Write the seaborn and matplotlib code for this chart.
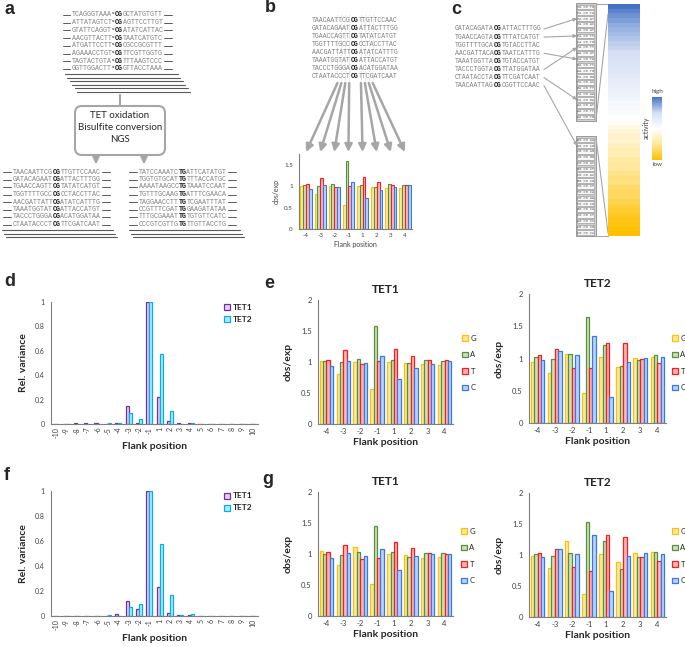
import numpy as np
import pandas as pd
import matplotlib
matplotlib.use('Agg')
import matplotlib.pyplot as plt
import seaborn as sns
from matplotlib.patches import Patch, Rectangle, FancyBboxPatch
from matplotlib.colors import LinearSegmentedColormap, Normalize
from matplotlib.cm import ScalarMappable
from matplotlib.ticker import FuncFormatter, FixedLocator

# ---- data ----
flank_pos = ['-4', '-3', '-2', '-1', '1', '2', '3', '4']
bases = ['G', 'A', 'T', 'C']
# rows: G, A, T, C
e_tet1 = [[1.01, 0.81, 1.00, 0.56, 1.00, 0.99, 0.96, 0.95],
          [1.02, 1.00, 1.05, 1.58, 1.03, 0.99, 1.04, 1.02],
          [1.04, 1.19, 0.97, 1.01, 1.21, 1.09, 1.03, 1.03],
          [0.93, 1.02, 0.99, 1.10, 0.73, 0.91, 0.97, 1.02]]
e_tet2 = [[0.95, 0.78, 1.07, 0.47, 1.03, 0.87, 1.01, 1.03],
          [1.02, 1.00, 1.07, 1.64, 1.21, 0.88, 0.98, 1.05],
          [1.06, 1.14, 0.85, 0.86, 1.24, 1.24, 0.99, 0.93],
          [0.97, 1.11, 1.05, 1.35, 0.41, 0.95, 1.01, 1.02]]
g_tet1 = [[1.05, 0.82, 1.12, 0.52, 1.00, 0.98, 0.94, 0.95],
          [1.00, 0.98, 1.03, 1.45, 1.03, 0.95, 1.02, 1.01],
          [1.03, 1.14, 0.92, 0.94, 1.20, 1.09, 1.01, 1.00],
          [0.93, 1.01, 0.97, 1.08, 0.75, 0.97, 1.00, 1.00]]
g_tet2 = [[0.99, 0.79, 1.22, 0.37, 1.02, 0.88, 1.04, 1.05],
          [1.01, 0.98, 1.03, 1.53, 1.22, 0.78, 0.96, 1.05],
          [1.03, 1.09, 0.81, 0.75, 1.33, 1.29, 0.97, 0.91],
          [0.97, 1.09, 1.02, 1.33, 0.42, 0.99, 1.04, 1.01]]

var_pos = ['-10', '-9', '-8', '-7', '-6', '-5', '-4', '-3', '-2', '-1',
           '1', '2', '3', '4', '5', '6', '7', '8', '9', '10']
enzymes = ['TET1', 'TET2']
d_tet1 = [0, 0, 0.005, 0.008, 0.005, 0.004, 0.012, 0.148, 0.01, 1.0,
          0.22, 0.027, 0.008, 0.008, 0.002, 0.002, 0.002, 0, 0, 0]
d_tet2 = [0, 0, 0.002, 0, 0.002, 0.008, 0.008, 0.093, 0.044, 1.0,
          0.575, 0.11, 0.002, 0.008, 0.002, 0.002, 0, 0, 0, 0]
f_tet1 = [0, 0, 0, 0, 0, 0, 0.016, 0.123, 0.053, 1.0,
          0.235, 0.027, 0.008, 0.008, 0, 0, 0, 0, 0, 0]
f_tet2 = [0, 0, 0, 0, 0, 0.005, 0, 0.075, 0.10, 1.0,
          0.58, 0.17, 0.005, 0.015, 0, 0, 0, 0, 0, 0]

activity = [1.00, 0.92, 0.85, 0.80, 0.74, 0.70, 0.66, 0.62, 0.58, 0.55,
            0.50, 0.47, 0.44, 0.40, 0.37, 0.35, 0.30, 0.28, 0.24, 0.20,
            0.17, 0.13, 0.10, 0.06, 0.02, -0.05, -0.12, -0.20, -0.26, -0.24,
            -0.32, -0.38, -0.36, -0.44, -0.50, -0.48, -0.55, -0.60, -0.58, -0.65,
            -0.70, -0.68, -0.75, -0.80, -0.84, -0.88, -0.92, -0.95, -0.98, -1.00]

seq_a_top = ['TCAGGGTAAACGGCTATGTGTT', 'ATTATAGTCTCGAGTTCCTTGT', 'GTATTCAGGTCGATATCATTAC',
             'AACGTTACTTCGTAATCATGTC', 'ATGATTCCTTCGCGCCGCGTTT', 'AGAAACCTGTCGTTCGTTGGTG',
             'TAGTACTGTACGTTTAAGTCCC', 'GGTTGGACTTCGGTTACCTAAA']
seq_a_left = ['TAACAATTCGCGTTGTTCCAAC', 'GATACAGAATCGATTACTTTGG', 'TGAACCAGTTCGTATATCATGT',
              'TGGTTTTGCCCGCCTACCTTAC', 'AACGATTATTCGATATCATTTG', 'TAAATGGTATCGATTACCATGT',
              'TACCCTGGGACGACATGGATAA', 'CTAATACCCTCGTTCGATCAAT']
seq_a_right = ['TATCCAAATCTGATTCATATGT', 'TGGTGTGCATTGTTTACCATGC', 'AAAATAAGCCTGTAAATCCAAT',
               'TGTTTGCAAGTGATTTCGAACA', 'TAGGAACCTTTGTCGAATTTAT', 'CCGTTTCGATTGGAAGATATAA',
               'TTTGCGAAATTGTGTGTTCATC', 'CCCGTCGTTGTGTTGTTACCTG']
seq_c = ['GATACAGATACGATTACTTTGG', 'TGAACCAGTACGTTTATCATGT', 'TGGTTTTGCACGTGTACCTTAC',
         'AACGATTACACGTAATCATTTG', 'TAAATGGTTACGTGTACCATGT', 'TACCCTGGTACGTTATGGATAA',
         'CTAATACCTACGTTCGATCAAT', 'TAACAATTAGCGCGGTTCCAAC']
box_top = ['TACGTG', 'TACGTA', 'TACGAT', 'TACGAC', 'TACGAT', 'TACGTT', 'CACGTG', 'TACGTT',
           'AACGAT', 'CACGTA', 'GACGTT', 'AACGTG', 'TACGGG', 'TACGAC', 'GACGTT', 'TACGAA',
           'TACGGA', 'AACGAT', 'AACGTT', 'AACGTG']
box_bottom = ['GGCGAA', 'AGCGCG', 'CGCGAG', 'CGCGGG', 'CGCGAC', 'GGCGCT', 'CGCGAC', 'GGCGCG',
              'TGCGCT', 'TGCGCA', 'CGCGAA', 'TGCGCG', 'GGCGCA', 'CGCGCT', 'AGCGCC', 'CGCGCG',
              'CGCGCA']

base_fill = ['#FFE8A3', '#CBE0BC', '#FFB8B8', '#BCD3F7']
base_edge = ['#FFC000', '#5B8E3A', '#FF1A1A', '#3478EE']
enz_fill = ['#E2D2EE', '#B5E8FB']
enz_edge = ['#7030A0', '#00B0F0']

# ---- layout helpers (pixel boxes) ----
W, H = 685, 647
axis_col = '#7F7F7F'
txt_col = '#404040'
seq_col = '#808080'
arrow_col = '#A6A6A6'


def px(l, t, r, b):
    return [l / W, 1 - b / H, (r - l) / W, (b - t) / H]


def long_table(pos, levels, values):
    rows = []
    for lev, vals in zip(levels, values):
        for p, v in zip(pos, vals):
            rows.append((p, lev, v))
    return pd.DataFrame(rows, columns=['pos', 'grp', 'val'])


def bars(ax, pos, levels, values, fills, edges, width, lw, fs):
    df = long_table(pos, levels, values)
    sns.barplot(data=df, x='pos', y='val', hue='grp', order=pos, hue_order=levels,
                palette=dict(zip(levels, fills)), width=width, errorbar=None,
                saturation=1, legend=False, ax=ax)
    for cont, ec in zip(ax.containers, edges):
        for b in cont:
            b.set_edgecolor(ec)
            b.set_linewidth(lw)
    sns.despine(ax=ax)
    for s in ['left', 'bottom']:
        ax.spines[s].set_color(axis_col)
        ax.spines[s].set_linewidth(0.8)
    n = len(pos)
    ax.set_xlim(-0.5, n - 0.5)
    ax.xaxis.set_minor_locator(FixedLocator(np.arange(n + 1) - 0.5))
    ax.tick_params(axis='x', which='major', length=0, labelsize=fs, labelcolor=txt_col, pad=3)
    ax.tick_params(axis='x', which='minor', length=2.5, color=axis_col, width=0.8)
    ax.tick_params(axis='y', length=2.5, color=axis_col, width=0.8, labelsize=fs,
                   labelcolor=txt_col, pad=2)
    ax.yaxis.set_major_formatter(FuncFormatter(lambda v, p: f'{v:g}'))
    ax.set_xlabel('')
    ax.set_ylabel('')
    ax.set_facecolor('none')


def legend(ax, labels, fills, edges, x, y, fs, spacing, bold=False):
    handles = [Patch(facecolor=f, edgecolor=e, linewidth=0.9) for f, e in zip(fills, edges)]
    ax.legend(handles, labels, loc='center left', bbox_to_anchor=(x / W, 1 - y / H),
              bbox_transform=fig.transFigure, frameon=False, borderaxespad=0, borderpad=0,
              handlelength=0.75, handleheight=0.75, handletextpad=0.35, labelspacing=spacing,
              prop={'size': fs, 'weight': 'bold' if bold else 'normal', 'family': 'Lato'})


def obs_panel(rect, values, title, leg_x, leg_y):
    ax = fig.add_axes(px(*rect))
    bars(ax, flank_pos, bases, values, base_fill, base_edge, 0.8, 0.9, 5.5)
    ax.set_ylim(0, 2)
    ax.set_yticks([0, 0.5, 1, 1.5, 2])
    ax.set_title(title, fontsize=8.5, fontweight='bold', pad=5)
    ax.set_ylabel('obs/exp', fontsize=7.5, fontweight='bold', labelpad=6)
    ax.set_xlabel('Flank position', fontsize=7.5, fontweight='bold', labelpad=2)
    legend(ax, bases, base_fill, base_edge, leg_x, leg_y, 5.5, 1.25)
    return ax


def var_panel(rect, v1, v2, leg_y):
    ax = fig.add_axes(px(*rect))
    bars(ax, var_pos, enzymes, [v1, v2], enz_fill, enz_edge, 0.6, 0.9, 5)
    ax.set_ylim(0, 1)
    ax.set_yticks([0, 0.2, 0.4, 0.6, 0.8, 1])
    ax.tick_params(axis='x', which='major', labelrotation=90, labelsize=5, pad=2)
    ax.set_ylabel('Rel. variance', fontsize=7.5, fontweight='bold', labelpad=5)
    ax.set_xlabel('Flank position', fontsize=7.5, fontweight='bold', labelpad=3)
    legend(ax, enzymes, enz_fill, enz_edge, 224, leg_y, 6, 0.6, bold=True)
    return ax


def seq_block(ov, seqs, x0, y0, dy, fs, dash=0, mark=False):
    cw = fs / 72 * 100 * 0.6
    shift = 0.7 * cw if mark else 0
    end = x0 + 22 * cw + shift
    for i, s in enumerate(seqs):
        y = y0 + i * dy
        kw = dict(fontsize=fs, family='Liberation Mono', va='center', ha='left')
        ov.text(x0, y, s[:10], color=seq_col, **kw)
        if mark:
            ov.text(x0 + 10 * cw - 0.5, y - 1.6, 'm', color='#404040',
                    fontsize=fs * 0.6, family='Liberation Mono', va='center', ha='left')
        ov.text(x0 + 10 * cw + shift, y, s[10:12], color='#1A1A1A', fontweight='bold', **kw)
        ov.text(x0 + 12 * cw + shift, y, s[12:], color=seq_col, **kw)
        if dash:
            ov.plot([x0 - dash, x0 - 1.5], [y, y], color='#595959', lw=0.7)
            ov.plot([end + 1.5, end + dash], [y, y], color='#595959', lw=0.7)
    return cw, end


sns.set_style('white')
plt.rcParams['font.family'] = ['Lato', 'DejaVu Sans']

fig = plt.figure(figsize=(W / 100, H / 100), dpi=100)
ov = fig.add_axes([0, 0, 1, 1])
ov.set_xlim(0, W)
ov.set_ylim(H, 0)
ov.axis('off')

# panel letters
for lab, (lx, ly) in zip('abcdefg', [(10, 10), (270, 8), (456, 10), (10, 282),
                                     (269, 283), (7, 476), (268, 479)]):
    ov.text(lx, ly, lab, fontsize=13, fontweight='bold', family='Liberation Sans',
            ha='center', va='center')

# ---- panel a ----
seq_block(ov, seq_a_top, 72, 15, 7.7, 4.8, dash=9, mark=True)
for i in range(6):
    ov.plot([65 + 2.5 * i, 178 + 2.5 * i], [74 + 3.6 * i] * 2, color='#595959', lw=0.8)
ov.plot([120, 120], [95, 106], color=arrow_col, lw=1.5)
ov.add_patch(FancyBboxPatch((75, 106), 90, 49, boxstyle='round,pad=0,rounding_size=7',
                            ec=arrow_col, fc='white', lw=1.5))
for yy, t in zip([116, 128, 140], ['TET oxidation', 'Bisulfite conversion', 'NGS']):
    ov.text(120, yy, t, fontsize=7, ha='center', va='center', color='#262626')
for xx in [96, 144]:
    ov.annotate('', xy=(xx, 167), xytext=(xx, 155),
                arrowprops=dict(arrowstyle='-|>', color=arrow_col, lw=1.5, mutation_scale=10))
seq_block(ov, seq_a_left, 13, 172, 7.5, 4.75, dash=10)
seq_block(ov, seq_a_right, 139, 172, 7.5, 4.75, dash=10)
for i in range(3):
    ov.plot([2 + 2 * i, 113 + 2 * i], [230 + 3.5 * i] * 2, color='#595959', lw=0.8)
    ov.plot([129 + 2 * i, 240 + 2 * i], [230 + 3.5 * i] * 2, color='#595959', lw=0.8)

# ---- panel b ----
bx0, by0 = 312, 21
cw_b = 4.7 / 72 * 100 * 0.6
flank_idx = [6, 7, 8, 9, 12, 13, 14, 15]
for ci in flank_idx:
    xc = bx0 + (ci + 0.5) * cw_b
    ov.plot([xc, xc], [15, 80], color='#BFBFBF', lw=0.5, ls=(0, (1, 1.5)))
seq_block(ov, seq_a_left, bx0, by0, 8, 4.7)
b_rect = (299, 154, 412, 229)
for k, ci in enumerate(flank_idx):
    xs = bx0 + (ci + 0.5) * cw_b
    xe = b_rect[0] + (k + 0.5) * (b_rect[2] - b_rect[0]) / 8
    ov.annotate('', xy=(xe, 152), xytext=(xs, 83),
                arrowprops=dict(arrowstyle='-|>', color=arrow_col, lw=1.8, mutation_scale=11,
                                shrinkA=0, shrinkB=0))
axb = fig.add_axes(px(*b_rect))
bars(axb, flank_pos, bases, e_tet1, base_fill, base_edge, 0.8, 0.8, 4.5)
axb.set_ylim(0, 1.75)
axb.set_yticks([0, 0.5, 1, 1.5])
axb.set_ylabel('obs/exp', fontsize=5, color=txt_col, labelpad=3)
axb.set_xlabel('Flank position', fontsize=5, color=txt_col, labelpad=2)

# ---- panel c ----
seq_block(ov, seq_c, 455, 29, 8.1, 4.7)
bh = 5.8
for blk, (y0, labels) in enumerate([(4, box_top), (137, box_bottom)]):
    ov.add_patch(Rectangle((576, y0 - 0.8), 20, len(labels) * bh + 1.6, fc='#D0D0D0',
                           ec='#8C8C8C', lw=0.6))
    for i, lab in enumerate(labels):
        ov.add_patch(Rectangle((577.5, y0 + i * bh + 0.6), 17, bh - 1.2, fc='#F7F7F7',
                               ec='#8C8C8C', lw=0.4))
        ov.text(586, y0 + (i + 0.5) * bh, lab[:2] + ' ' + lab[2:4] + ' ' + lab[4:],
                fontsize=2.6, family='Liberation Mono', ha='center', va='center', color='#595959')
links = [(0, 4, 2), (1, 4, 5), (3, 4, 9), (5, 4, 7), (6, 4, 16), (7, 137, 1)]
for row, y0, idx in links:
    ov.annotate('', xy=(577, y0 + (idx + 0.5) * bh), xytext=(544, 29 + row * 8.1),
                arrowprops=dict(arrowstyle='-|>', color=arrow_col, lw=0.8, mutation_scale=5,
                                shrinkA=0, shrinkB=0))
for (x1, y1), (x2, y2) in [((596, 4), (608, 4)), ((596, 120), (608, 14)),
                           ((596, 138), (608, 233)), ((596, 236), (608, 236))]:
    ov.plot([x1, x2], [y1, y2], color=arrow_col, lw=0.8)

act_cmap = LinearSegmentedColormap.from_list(
    'act', ['#FFC000', '#FFE79A', '#FFFFFF', '#D5E0F4', '#4472C4'])
axh = fig.add_axes(px(608, 4, 640, 236))
sns.heatmap(np.array(activity)[:, None], ax=axh, cmap=act_cmap, vmin=-1, vmax=1,
            cbar=False, xticklabels=False, yticklabels=False)
axcb = fig.add_axes(px(652, 97, 662, 160))
cb = fig.colorbar(ScalarMappable(norm=Normalize(-1, 1), cmap=act_cmap), cax=axcb)
cb.set_ticks([])
cb.outline.set_visible(False)
ov.text(657, 92, 'high', fontsize=4.5, ha='center', va='center', color='#404040')
ov.text(657, 165, 'low', fontsize=4.5, ha='center', va='center', color='#404040')
ov.text(646, 128, 'activity', fontsize=5, rotation=90, ha='center', va='center', color='#404040')

# ---- panels d-g ----
var_panel((51, 302, 258, 424), d_tet1, d_tet2, 313)
var_panel((51, 491, 258, 616), f_tet1, f_tet2, 502)
obs_panel((318, 300, 453, 424), e_tet1, 'TET1', 462, 363)
obs_panel((529, 294, 666, 423), e_tet2, 'TET2', 672, 363)
obs_panel((318, 492, 453, 616), g_tet1, 'TET1', 461, 556)
obs_panel((529, 493, 666, 617), g_tet2, 'TET2', 672, 556)

fig.savefig('out.png', dpi=100)
